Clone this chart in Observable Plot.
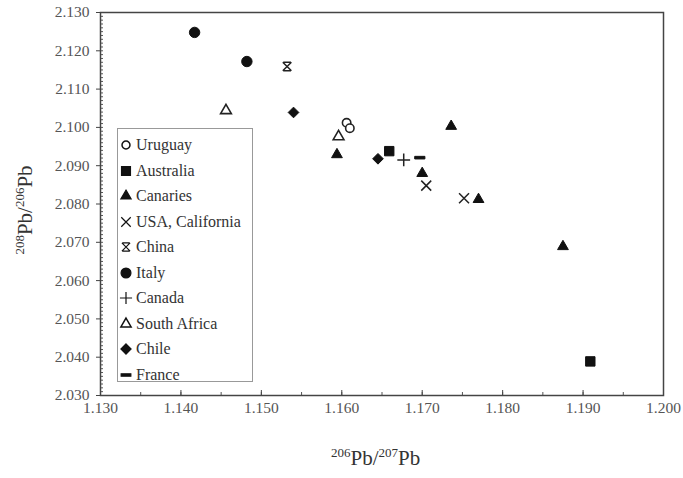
<!DOCTYPE html>
<html>
<head>
<meta charset="utf-8">
<script src="https://cdn.jsdelivr.net/npm/d3@7"></script>
<script src="https://cdn.jsdelivr.net/npm/@observablehq/plot@0.6"></script>
<style>
  html, body { margin: 0; padding: 0; background: #fff; }
  #wrap { position: relative; width: 683px; height: 478px; font-family: "Liberation Serif", "Times New Roman", Times, serif; color: #333; }
  #wrap svg text { font-family: "Liberation Serif", "Times New Roman", Times, serif; }
  #legend { position: absolute; left: 117px; top: 128px; width: 136px; height: 254px; border: 1px solid #999; background: #fff; box-sizing: border-box; }
  .row { position: absolute; left: 0; height: 22px; display: flex; align-items: center; font-size: 16px; color: #333; white-space: nowrap; }
  .row svg { margin-left: 1px; margin-right: 3px; }
  .lbl { position: absolute; font-size: 21px; color: #333; white-space: nowrap; }
  .lbl sup { font-size: 13px; vertical-align: 8px; line-height: 0; }
</style>
</head>
<body>
<div id="wrap"></div>
<script>
// ---- data ----
const countries = ["Uruguay", "Australia", "Canaries", "USA, California", "China", "Italy", "Canada", "South Africa", "Chile", "France"];
const openCountries = ["Uruguay", "South Africa"];
const pointCountry = ["Italy", "Italy", "China", "South Africa", "Chile", "Uruguay", "Uruguay", "South Africa", "Canaries", "Chile", "Australia", "Canada", "France", "Canaries", "Canaries", "USA, California", "USA, California", "Canaries", "Canaries", "Australia"];
const pb206_207 = [1.1417, 1.1482, 1.1532, 1.1456, 1.1540, 1.1606, 1.1610, 1.1596, 1.1594, 1.1645, 1.1659, 1.1677, 1.1697, 1.1736, 1.1700, 1.1705, 1.1752, 1.1770, 1.1875, 1.1909];
const pb208_206 = [2.1248, 2.1172, 2.1159, 2.1044, 2.1039, 2.1012, 2.0998, 2.0976, 2.0929, 2.0918, 2.0938, 2.0915, 2.0921, 2.1003, 2.0880, 2.0848, 2.0815, 2.0812, 2.0689, 2.0389];
const xTicks = [1.13, 1.14, 1.15, 1.16, 1.17, 1.18, 1.19, 1.20];
const yTicks = [2.03, 2.04, 2.05, 2.06, 2.07, 2.08, 2.09, 2.10, 2.11, 2.12, 2.13];

// ---- symbols ----
const dash = { draw(ctx, size) { const w = Math.sqrt(size) * 1.25, h = Math.sqrt(size) * 0.32; ctx.rect(-w / 2, -h / 2, w, h); } };
const chinaSym = { draw(ctx, size) { const s = Math.sqrt(size) * 0.42; ctx.moveTo(-s, -s); ctx.lineTo(s, s); ctx.moveTo(s, -s); ctx.lineTo(-s, s); ctx.moveTo(-s * 0.9, -s); ctx.lineTo(s * 0.9, -s); ctx.moveTo(-s * 0.9, s); ctx.lineTo(s * 0.9, s); } };
const symbolFor = {
  "Uruguay": d3.symbolCircle, "Australia": d3.symbolSquare, "Canaries": d3.symbolTriangle,
  "USA, California": d3.symbolTimes, "China": chinaSym, "Italy": d3.symbolCircle,
  "Canada": d3.symbolPlus, "South Africa": d3.symbolTriangle, "Chile": d3.symbolDiamond2, "France": dash
};
const radiusFor = {
  "Uruguay": 4.2, "Australia": 5.3, "Canaries": 4.0, "USA, California": 4.6, "China": 5.8,
  "Italy": 5.2, "Canada": 4.2, "South Africa": 4.0, "Chile": 4.8, "France": 4.6
};
const strokeOnly = ["USA, California", "China", "Canada"];

const data = pointCountry.map((c, i) => ({ country: c, x: pb206_207[i], y: pb208_206[i] }));
const filled = data.filter(d => !openCountries.includes(d.country) && !strokeOnly.includes(d.country));
const lines = data.filter(d => strokeOnly.includes(d.country));
const hollow = data.filter(d => openCountries.includes(d.country));

const symScale = { domain: countries, range: countries.map(c => symbolFor[c]) };

const chart = Plot.plot({
  width: 683, height: 478,
  marginLeft: 100, marginTop: 12, marginRight: 20, marginBottom: 83,
  style: { fontFamily: "'Liberation Serif', 'Times New Roman', serif", fontSize: "15.5px", color: "#555", background: "#fff" },
  x: { domain: [1.13, 1.20], label: null },
  y: { domain: [2.03, 2.13], label: null },
  symbol: symScale,
  r: { type: "identity" },
  marks: [
    Plot.axisY({ ticks: d3.range(2.03, 2.1301, 0.001), tickSize: -3, text: null, stroke: "#555" }),
    Plot.axisX({ ticks: d3.range(1.13, 1.2001, 0.005), tickSize: -3, text: null, stroke: "#555" }),
    Plot.axisY({ ticks: yTicks, tickSize: 4, tickPadding: 7, tickFormat: d3.format(".3f"), stroke: "#444" }),
    Plot.axisX({ ticks: xTicks, tickSize: -5, tickPadding: 11, tickFormat: d3.format(".3f"), stroke: "#444" }),
    Plot.frame({ stroke: "#444", strokeWidth: 1.5 }),
    Plot.dot(filled, { x: "x", y: "y", symbol: "country", r: d => radiusFor[d.country], fill: "#111", stroke: "#111", strokeWidth: 1 }),
    Plot.dot(lines, { x: "x", y: "y", symbol: "country", r: d => radiusFor[d.country], fill: "none", stroke: "#222", strokeWidth: 1.5 }),
    Plot.dot(hollow, { x: "x", y: "y", symbol: "country", r: d => radiusFor[d.country], fill: "white", stroke: "#222", strokeWidth: 1.6 })
  ]
});

const wrap = document.getElementById("wrap");
wrap.appendChild(chart);

// ---- legend ----
const legend = document.createElement("div");
legend.id = "legend";
countries.forEach((c, i) => {
  const row = document.createElement("div");
  row.className = "row";
  row.style.top = (5 + i * 25.5) + "px";
  const open = openCountries.includes(c);
  const r = radiusFor[c] * 0.95;
  const path = d3.symbol(symbolFor[c], Math.PI * r * r)();
  const isStroke = strokeOnly.includes(c);
  row.innerHTML = `<svg width="14" height="16" viewBox="-7 -8 14 16"><path d="${path}" fill="${open ? "white" : (isStroke ? "none" : "#111")}" stroke="#111" stroke-width="${open ? 1.5 : 1.2}"/></svg><span>${c}</span>`;
  legend.appendChild(row);
});
wrap.appendChild(legend);

// ---- axis labels ----
const xl = document.createElement("div");
xl.className = "lbl";
xl.innerHTML = "<sup>206</sup>Pb/<sup>207</sup>Pb";
xl.style.left = "331px"; xl.style.top = "446px";
wrap.appendChild(xl);

const yl = document.createElement("div");
yl.className = "lbl";
yl.innerHTML = "<sup>208</sup>Pb/<sup>206</sup>Pb";
yl.style.left = "25px"; yl.style.top = "210px";
yl.style.transform = "translate(-50%, -50%) rotate(-90deg)";
wrap.appendChild(yl);
</script>
</body>
</html>
